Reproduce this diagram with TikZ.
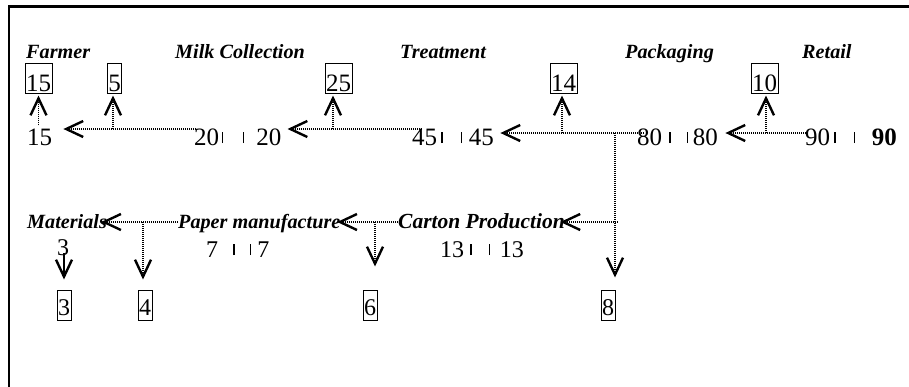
\documentclass[tikz,border=0pt]{standalone}
\usepackage{fontspec}
\setmainfont{Liberation Serif}
\usetikzlibrary{arrows.meta}
\newcommand{\barpair}[5]{#1\hspace{#2}\rule[2pt]{1.3pt}{11.5pt}\hspace{#3}\rule[2pt]{1.3pt}{11.5pt}\hspace{#4}#5}
\begin{document}
\begin{tikzpicture}[x=1pt,y=-1pt,
  lab/.style={font=\fontsize{20.2}{24}\selectfont\bfseries\itshape, inner sep=0pt, anchor=base west},
  num/.style={font=\fontsize{25}{30}\selectfont, inner sep=0pt, anchor=base west},
  snum/.style={font=\fontsize{24}{28}\selectfont, inner sep=0pt, anchor=base west},
  tbox/.style={draw, line width=1pt, font=\fontsize{25}{30}\selectfont, inner xsep=1pt, inner ysep=0pt, text height=28pt, text depth=2pt, anchor=base},
  bbox/.style={draw, line width=1pt, font=\fontsize{24}{28}\selectfont, inner xsep=1pt, inner ysep=0pt, text height=25pt, text depth=5pt, anchor=base},
  flow/.style={line width=1.4pt, dash pattern=on 1.2pt off 0.8pt, -{Straight Barb[length=17pt,width=16pt,line width=2.4pt]}},
]
\useasboundingbox (0,0) rectangle (909,386);
\draw[line width=2.5pt, line join=miter] (9,390) -- (9,6.5) -- (912,6.5);

% top labels
\node[lab] (farmer) at (26,58) {Farmer};
\node[lab] (milk) at (175,58) {Milk Collection};
\node[lab] (treat) at (400,58) {Treatment};
\node[lab] (pack) at (625,58) {Packaging};
\node[lab] (retail) at (802,58) {Retail};

% top boxes
\node[tbox] (b15) at (38.5,91) {15};
\node[tbox] (b5) at (114.5,91) {5};
\node[tbox] (b25) at (338.5,91) {25};
\node[tbox] (b14) at (563.5,91) {14};
\node[tbox] (b10) at (764.5,91) {10};

% top numbers
\node[num] (n15) at (27,145) {15};
\node[num] (n20) at (194,145) {\barpair{20}{2.5pt}{20pt}{12pt}{20}};
\node[num] (n45) at (412,145) {\barpair{45}{4pt}{18pt}{7pt}{45}};
\node[num] (n80) at (637,145) {\barpair{80}{7pt}{16pt}{5pt}{80}};
\node[num] (n90) at (805,145) {\barpair{90}{4pt}{18pt}{17pt}{\textbf{90}}};

% bottom labels
\node[lab] (mat) at (27,228) {Materials};
\node[lab] (paper) at (178,228) {Paper manufacture};
\node[lab, font=\fontsize{21.5}{25}\selectfont\bfseries\itshape] (carton) at (398,228) {Carton Production};

% bottom numbers
\node[snum] (n3) at (57,255) {3};
\node[snum] (n7) at (206,257) {\barpair{7}{15pt}{15.5pt}{6pt}{7}};
\node[snum] (n13) at (440,257) {\barpair{13}{6pt}{17pt}{10pt}{13}};

% bottom boxes
\node[bbox] (b3) at (64,315) {3};
\node[bbox] (b4) at (145,315) {4};
\node[bbox] (b6) at (370,315) {6};
\node[bbox] (b8) at (608,315) {8};

% junctions
\coordinate (j5) at (113,129);
\coordinate (j25) at (333,129);
\coordinate (j14) at (562,133);
\coordinate (j10) at (766,133);
\coordinate (jd) at (615,133);
\coordinate (jc) at (618,222);
\coordinate (j4) at (143,222);
\coordinate (j6) at (375,222);

% top flow
\draw[flow, shorten <=-2pt, shorten >=11pt] (n20.west |- j5) -- (n15.east |- j5);
\draw[flow, shorten <=-10pt, shorten >=6pt] (n45.west |- j25) -- (n20.east |- j25);
\draw[flow, shorten <=-7pt, shorten >=6.4pt] (n80.west |- j14) -- (n45.east |- j14);
\draw[flow, shorten <=-3pt, shorten >=7.4pt] (n90.west |- j10) -- (n80.east |- j10);

\draw[flow, shorten <=3pt, shorten >=2pt] (b15.south |- n15.north) -- (b15.south);
\draw[flow, shorten >=2pt] (j5) -- (j5 |- b5.south);
\draw[flow, shorten >=2pt] (j25) -- (j25 |- b25.south);
\draw[flow, shorten >=2pt] (j14) -- (j14 |- b14.south);
\draw[flow, shorten >=2pt] (j10) -- (j10 |- b10.south);

% down to 8 and bottom flow
\draw[flow, shorten >=12pt] (jd) -- (jd |- b8.north);
\draw[flow, shorten >=-4.7pt] (jc) -- (carton.east |- jc);
\draw[flow, shorten >=-3.4pt] (carton.west |- jc) -- (paper.east |- jc);
\draw[flow, shorten >=-6pt] (paper.west |- j4) -- (mat.east |- j4);

\draw[flow, shorten >=23pt] (j6) -- (j6 |- b6.north);
\draw[flow, shorten >=10pt] (j4) -- (j4 |- b4.north);
\draw[flow, shorten <=-2pt, shorten >=10pt] (b3.north |- n3.south) -- (b3.north);
\end{tikzpicture}
\end{document}
